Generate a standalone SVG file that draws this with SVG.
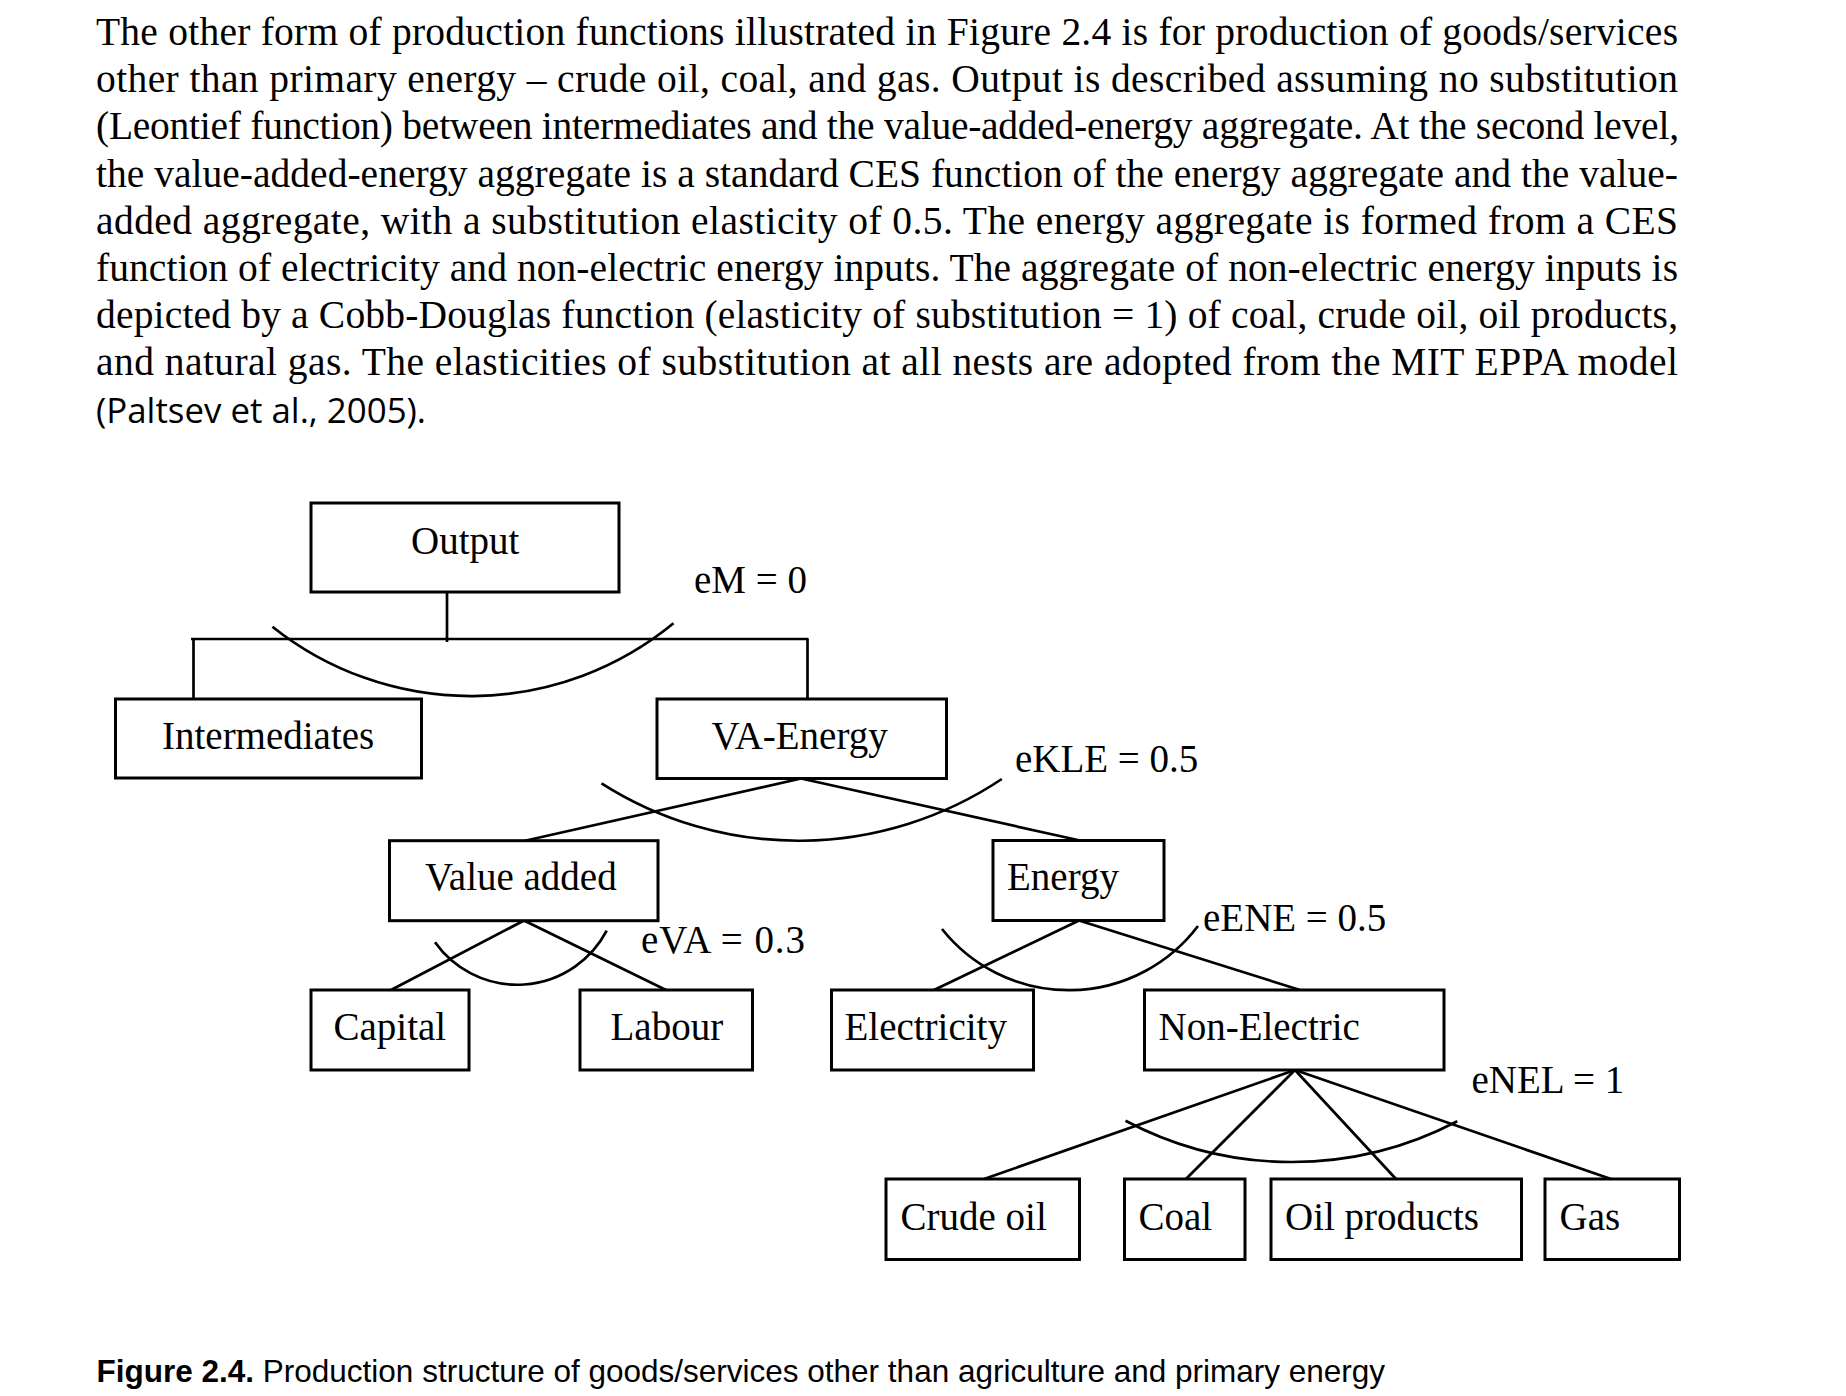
<svg xmlns="http://www.w3.org/2000/svg" width="1846" height="1396" viewBox="0 0 1846 1396">
<style>
.body{font-family:"Liberation Serif","Times New Roman",serif;font-size:39.5px;fill:#000}
.cal{font-family:"Open Sans","Liberation Sans",sans-serif;font-size:34px;fill:#000}
.lbl{font-family:"Liberation Serif","Times New Roman",serif;font-size:39px;fill:#000}
.box{fill:#fff;stroke:#000;stroke-width:3}
.ln{fill:none;stroke:#000;stroke-width:2.7}
.cap{font-family:"Liberation Sans",Arial,sans-serif;font-size:31.5px;fill:#000}
</style>
<rect width="1846" height="1396" fill="#fff"/>
<g id="paragraph">
<text class="body" x="96" y="45" textLength="1582" lengthAdjust="spacing">The other form of production functions illustrated in Figure 2.4 is for production of goods/services</text>
<text class="body" x="96" y="92.2" textLength="1582" lengthAdjust="spacing">other than primary energy – crude oil, coal, and gas. Output is described assuming no substitution</text>
<text class="body" x="96" y="139.4" textLength="1583" lengthAdjust="spacing">(Leontief function) between intermediates and the value-added-energy aggregate. At the second level,</text>
<text class="body" x="96" y="186.6" textLength="1582" lengthAdjust="spacing">the value-added-energy aggregate is a standard CES function of the energy aggregate and the value-</text>
<text class="body" x="96" y="233.8" textLength="1582" lengthAdjust="spacing">added aggregate, with a substitution elasticity of 0.5. The energy aggregate is formed from a CES</text>
<text class="body" x="96" y="281" textLength="1582" lengthAdjust="spacing">function of electricity and non-electric energy inputs. The aggregate of non-electric energy inputs is</text>
<text class="body" x="96" y="328.2" textLength="1582" lengthAdjust="spacing">depicted by a Cobb-Douglas function (elasticity of substitution = 1) of coal, crude oil, oil products,</text>
<text class="body" x="96" y="375.4" textLength="1582" lengthAdjust="spacing">and natural gas. The elasticities of substitution at all nests are adopted from the MIT EPPA model</text>
<text class="cal" x="96" y="423" textLength="330" lengthAdjust="spacingAndGlyphs">(Paltsev et al., 2005).</text>
</g>
<g id="connectors">
<line class="ln" x1="447" y1="592" x2="447" y2="642"/>
<line class="ln" x1="191" y1="639" x2="808.5" y2="639"/>
<line class="ln" x1="193.5" y1="639" x2="193.5" y2="699"/>
<line class="ln" x1="807.5" y1="639" x2="807.5" y2="699"/>
<path class="ln" d="M272.4,626.7 A318.6,318.6 0 0 0 673.5,623.3"/>
<line class="ln" x1="801" y1="778.5" x2="525" y2="840.7"/>
<line class="ln" x1="801" y1="778.5" x2="1080" y2="840.5"/>
<path class="ln" d="M601.5,783.3 A366,366 0 0 0 1001.8,779"/>
<line class="ln" x1="524" y1="920.5" x2="391" y2="990"/>
<line class="ln" x1="524" y1="920.5" x2="666" y2="990"/>
<path class="ln" d="M435,942.3 A101,101 0 0 0 606.7,930.7"/>
<line class="ln" x1="1079" y1="920.5" x2="934" y2="990"/>
<line class="ln" x1="1079" y1="920.5" x2="1300" y2="990"/>
<path class="ln" d="M942,929 A162,162 0 0 0 1198,926"/>
<line class="ln" x1="1295" y1="1070" x2="984" y2="1179"/>
<line class="ln" x1="1295" y1="1070" x2="1186" y2="1179"/>
<line class="ln" x1="1295" y1="1070" x2="1396" y2="1179"/>
<line class="ln" x1="1295" y1="1070" x2="1611" y2="1179"/>
<path class="ln" d="M1125.5,1120.7 A356,356 0 0 0 1457.3,1121.3"/>
</g>
<g id="node-output"><rect class="box" x="311" y="503" width="308" height="89"/><text class="lbl" x="411" y="554">Output</text></g>
<g id="node-intermediates"><rect class="box" x="115.5" y="699" width="306" height="79"/><text class="lbl" x="162" y="749">Intermediates</text></g>
<g id="node-va-energy"><rect class="box" x="657" y="699" width="289.5" height="79.5"/><text class="lbl" x="711.5" y="749">VA-Energy</text></g>
<g id="node-value-added"><rect class="box" x="389.5" y="840.7" width="268.5" height="80"/><text class="lbl" x="425" y="890">Value added</text></g>
<g id="node-energy"><rect class="box" x="993" y="840.5" width="171" height="80"/><text class="lbl" x="1007" y="890">Energy</text></g>
<g id="node-capital"><rect class="box" x="311" y="990" width="158" height="80"/><text class="lbl" x="333.5" y="1040">Capital</text></g>
<g id="node-labour"><rect class="box" x="580" y="990" width="172.5" height="80"/><text class="lbl" x="610.5" y="1040">Labour</text></g>
<g id="node-electricity"><rect class="box" x="831.5" y="990" width="202" height="80"/><text class="lbl" x="844.5" y="1040">Electricity</text></g>
<g id="node-non-electric"><rect class="box" x="1144.5" y="990" width="299.5" height="80"/><text class="lbl" x="1158.5" y="1040">Non-Electric</text></g>
<g id="node-crude-oil"><rect class="box" x="886" y="1179" width="193.5" height="80.5"/><text class="lbl" x="900.5" y="1229.5">Crude oil</text></g>
<g id="node-coal"><rect class="box" x="1124.5" y="1179" width="120.5" height="80.5"/><text class="lbl" x="1138.5" y="1229.5">Coal</text></g>
<g id="node-oil-products"><rect class="box" x="1271" y="1179" width="250.5" height="80.5"/><text class="lbl" x="1285" y="1229.5">Oil products</text></g>
<g id="node-gas"><rect class="box" x="1545" y="1179" width="134.5" height="80.5"/><text class="lbl" x="1559.5" y="1229.5">Gas</text></g>
<g id="labels">
<text class="lbl" x="694" y="593">eM = 0</text>
<text class="lbl" x="1015" y="772">eKLE = 0.5</text>
<text class="lbl" x="641" y="953" textLength="164" lengthAdjust="spacing">eVA = 0.3</text>
<text class="lbl" x="1203" y="931">eENE = 0.5</text>
<text class="lbl" x="1471.5" y="1093">eNEL = 1</text>
</g>
<text class="cap" x="96.5" y="1382"><tspan font-weight="bold">Figure 2.4.</tspan> Production structure of goods/services other than agriculture and primary energy</text>
</svg>
